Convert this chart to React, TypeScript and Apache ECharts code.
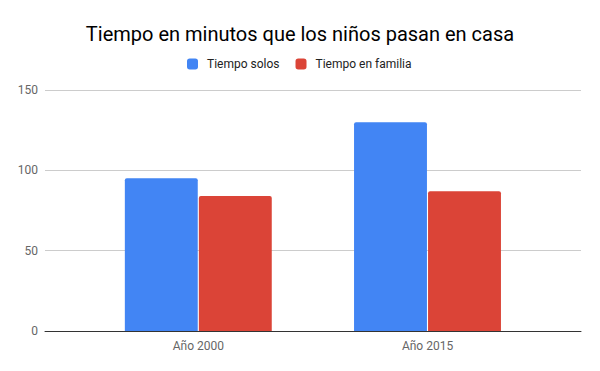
import React, { useEffect, useRef } from "react";
import * as echarts from "echarts";

const categories = ["Año 2000", "Año 2015"];
const seriesNames = ["Tiempo solos", "Tiempo en familia"];
const tiempoSolos = [95, 130];
const tiempoFamilia = [84, 87];
const yTicks = [0, 50, 100, 150];

export default function App() {
  const ref = useRef<HTMLDivElement>(null);
  useEffect(() => {
    if (!ref.current) return;
    const chart = echarts.init(ref.current, null, { renderer: "svg" });
    const font = "Roboto";
    chart.setOption({
      animation: false,
      backgroundColor: "#ffffff",
      title: {
        text: "Tiempo en minutos que los niños pasan en casa",
        left: "center",
        top: 19,
        textStyle: { fontFamily: font, fontSize: 20, fontWeight: "normal", color: "#000000" },
      },
      legend: {
        data: seriesNames,
        left: 187,
        top: 58,
        padding: 0,
        itemWidth: 11,
        itemHeight: 11,
        itemGap: 16,
        icon: "roundRect",
        textStyle: { fontFamily: font, fontSize: 12, color: "#222222", padding: [0, 0, 0, 4] },
      },
      grid: [
        { left: 45, right: 19, top: 90, bottom: 40 },
        { left: 83.7, right: 57.9, top: 90, bottom: 40 },
      ],
      xAxis: [
        {
          type: "category",
          gridIndex: 0,
          data: [""],
          axisLine: { show: true, lineStyle: { color: "#333333", width: 1 } },
          axisTick: { show: false },
          axisLabel: { show: false },
          z: 10,
        },
        {
          type: "category",
          gridIndex: 1,
          data: categories,
          axisLine: { show: false },
          axisTick: { show: false },
          axisLabel: { fontFamily: font, fontSize: 12, color: "#666666", margin: 9 },
        },
      ],
      yAxis: [
        {
          type: "value",
          gridIndex: 0,
          min: yTicks[0],
          max: yTicks[yTicks.length - 1],
          interval: 50,
          axisLine: { show: false },
          axisTick: { show: false },
          axisLabel: { fontFamily: font, fontSize: 12, color: "#666666", margin: 7 },
          splitLine: { lineStyle: { color: "#cccccc", width: 1 } },
        },
        {
          type: "value",
          gridIndex: 1,
          min: yTicks[0],
          max: yTicks[yTicks.length - 1],
          interval: 50,
          show: false,
          splitLine: { show: false },
        },
      ],
      series: [
        {
          name: seriesNames[0],
          type: "bar",
          xAxisIndex: 1,
          yAxisIndex: 1,
          data: tiempoSolos,
          barCategoryGap: "35.9%",
          barGap: "1.5%",
          itemStyle: { color: "#4285f4", borderRadius: [2, 2, 0, 0] },
        },
        {
          name: seriesNames[1],
          type: "bar",
          xAxisIndex: 1,
          yAxisIndex: 1,
          data: tiempoFamilia,
          barCategoryGap: "35.9%",
          barGap: "1.5%",
          itemStyle: { color: "#db4437", borderRadius: [2, 2, 0, 0] },
        },
      ],
    });
    return () => chart.dispose();
  }, []);
  return <div ref={ref} style={{ width: 600, height: 371, position: "absolute", left: 0, top: 0 }} />;
}
